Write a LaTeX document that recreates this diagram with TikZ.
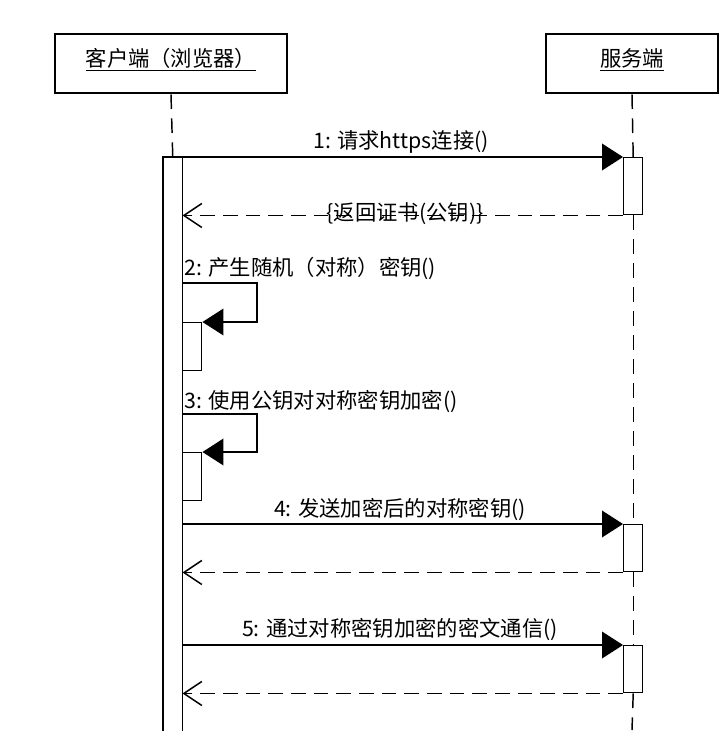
\documentclass[tikz,border=0pt]{standalone}
\usepackage{fontspec}
\usepackage{tikz}
\usetikzlibrary{arrows.meta}
\newfontfamily\cjk{Noto Sans CJK SC}

\tikzset{
  actor/.style={draw, line width=2pt, minimum height=44.25pt, inner sep=0pt,
    text height=14pt, text depth=10pt,
    font=\cjk\fontsize{16}{19}\selectfont},
  actbox/.style={draw, line width=1.1pt, fill=white, minimum width=14.25pt,
    inner sep=0pt, anchor=north west},
  lifeline/.style={line width=1.1pt, dash pattern=on 11pt off 7pt},
  callmsg/.style={line width=1.1pt, -{Triangle[length=15.75pt,width=20pt]}},
  retmsg/.style={line width=1.1pt, dash pattern=on 11pt off 6pt,
    -{Straight Barb[length=13.5pt,width=18pt,line width=1.1pt]}},
  msglabel/.style={font=\cjk\fontsize{16}{19}\selectfont, inner sep=0.75pt},
}

\begin{document}
\begin{tikzpicture}[x=0.75pt,y=0.75pt,yscale=-1,xscale=1]
\useasboundingbox (0,0) rectangle (724,751);

%Actors
\node[actor, minimum width=174pt] (client) at (171,63.5) {\underline{客户端（浏览器）}};
\node[actor, minimum width=129pt] (server) at (632,63.5) {\underline{服务端}};

%Activation of the client (open at the bottom)
\node[minimum width=14.25pt, minimum height=429.75pt, inner sep=0pt, anchor=north west] (actC) at (163,157) {};
\draw[line width=1.1pt] (actC.south west) -- (actC.north west) -- (actC.north east) -- (actC.south east);

%Activations
\node[actbox, minimum height=42.75pt] (s1) at (623,157) {};
\node[actbox, minimum height=36pt] (c2) at (182,322) {};
\node[actbox, minimum height=36pt] (c3) at (182,452) {};
\node[actbox, minimum height=35.25pt] (s4) at (623,524) {};
\node[actbox, minimum height=35.25pt] (s5) at (623,645) {};
\coordinate (sEnd) at (632,730);

%Lifelines
\draw[lifeline] (client.south) -- (actC.north);
\draw[lifeline] (server.south) -- (s1.north);
\draw[lifeline] (s1.south) -- (s4.north);
\draw[lifeline] (s4.south) -- (s5.north);
\draw[lifeline] (s5.south) -- (sEnd);

%Message 1 and its return
\draw[callmsg] (actC.east |- s1.north west) -- (s1.north west);
\draw[retmsg] (s1.south west) -- (actC.east |- s1.south west);

%Self messages 2 and 3
\coordinate (loop2) at (257,283);
\draw[callmsg] (actC.east |- loop2) -- (loop2) -- (loop2 |- c2.north east) -- (c2.north east);
\coordinate (loop3) at (257,414);
\draw[callmsg] (actC.east |- loop3) -- (loop3) -- (loop3 |- c3.north east) -- (c3.north east);

%Message 4 and its return
\draw[callmsg] (actC.east |- s4.north west) -- (s4.north west);
\draw[retmsg] (s4.south west) -- (actC.east |- s4.south west);

%Message 5 and its return
\draw[callmsg] (actC.east |- s5.north west) -- (s5.north west);
\draw[retmsg] (s5.south west) -- (actC.east |- s5.south west);

% Text Node
\node[msglabel, anchor=base] (t1) at (401,148) {1: 请求https连接()};
% Text Node
\node[msglabel, anchor=base] (t1r) at (405,220) {\{返回证书(公钥)\}};
% Text Node
\node[msglabel, anchor=base west] (t2) at (183,275) {2: 产生随机（对称）密钥()};
% Text Node
\node[msglabel, anchor=base west] (t3) at (183,408) {3: 使用公钥对对称密钥加密()};
% Text Node
\node[msglabel, anchor=base] (t4) at (400,516) {4: 发送加密后的对称密钥()};
% Text Node
\node[msglabel, anchor=base] (t5) at (400,636) {5: 通过对称密钥加密的密文通信()};

\end{tikzpicture}
\end{document}
